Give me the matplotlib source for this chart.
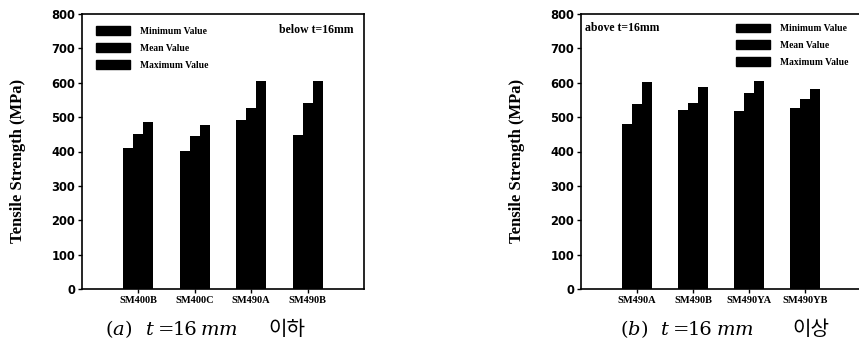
import matplotlib
matplotlib.use("Agg")
import matplotlib.pyplot as plt
import numpy as np
from matplotlib.patches import Patch

plt.rcParams['mathtext.fontset'] = 'dejavuserif'

cats_a = ["SM400B", "SM400C", "SM490A", "SM490B"]
min_a = [410, 401, 491, 448]
mean_a = [450, 444, 527, 541]
max_a = [486, 476, 605, 605]

cats_b = ["SM490A", "SM490B", "SM490YA", "SM490YB"]
min_b = [480, 521, 518, 528]
mean_b = [538, 542, 570, 552]
max_b = [603, 589, 605, 581]

series_labels = ["Minimum Value", "Mean Value", "Maximum Value"]
yticks = [0, 100, 200, 300, 400, 500, 600, 700, 800]

W, H = 859, 349
fig = plt.figure(figsize=(W/100, H/100), dpi=100)
ax1 = fig.add_axes([82/W, 1-289/H, 282/W, 275/H])
ax2 = fig.add_axes([581/W, 1-289/H, 280/W, 275/H])

serif_bold = dict(family='Liberation Serif', weight='bold')

def draw(ax, cats, mins, means, maxs, note, note_xy, note_ha, leg_xy):
    x = np.arange(1, len(cats) + 1)
    w = 0.177
    for off, vals in zip((-w, 0, w), (mins, means, maxs)):
        ax.bar(x + off, vals, width=w, color='black', edgecolor='black', linewidth=0)
    ax.set_xlim(0, 5)
    ax.set_ylim(0, 800)
    ax.set_yticks(yticks)
    ax.set_yticklabels([str(v) for v in yticks], fontsize=8.3, fontweight='bold', family='DejaVu Sans')
    ax.set_xticks(x)
    ax.set_xticklabels(cats, fontsize=7.5, **serif_bold)
    ax.tick_params(axis='both', direction='out', length=3, width=1, pad=2)
    for s in ax.spines.values():
        s.set_linewidth(1.2)
    ax.set_ylabel("Tensile Strength (MPa)", fontsize=12, **serif_bold)
    ax.yaxis.set_label_coords(-0.2, 0.465)
    ax.text(note_xy[0], note_xy[1], note, transform=ax.transAxes, ha=note_ha, va='top',
            fontsize=8.5, **serif_bold)
    handles = [Patch(facecolor='black', edgecolor='black') for _ in series_labels]
    ax.legend(handles, series_labels, loc='upper left', bbox_to_anchor=leg_xy,
              frameon=False, prop=dict(family='Liberation Serif', weight='bold', size=6.9),
              handlelength=3.55, handleheight=1.04, labelspacing=0.75,
              handletextpad=1.05, borderpad=0, borderaxespad=0)

draw(ax1, cats_a, min_a, mean_a, max_a, "below t=16mm", (0.961, 0.965), 'right', (0.05, 0.955))
draw(ax2, cats_b, min_b, mean_b, max_b, "above t=16mm", (0.015, 0.97), 'left', (0.554, 0.965))

# caption pieces (x pixel, text)
cap_a = [(105, r"($a$)"), (145, r"$t$"), (158, "="), (173, "16"), (200, r"$mm$")]
cap_b = [(620, r"($b$)"), (660, r"$t$"), (673, "="), (688, "16"), (716, r"$mm$")]
base_y = 1 - 335/H
for px, s in cap_a + cap_b:
    fig.text(px/W, base_y, s, ha='left', va='baseline', fontsize=14, family='DejaVu Serif')
fig.text(268/W, base_y, "이하", ha='left', va='baseline', fontsize=14.5, family='Noto Sans CJK KR')
fig.text(792/W, base_y, "이상", ha='left', va='baseline', fontsize=14.5, family='Noto Sans CJK KR')

fig.savefig("out.png", dpi=100)
